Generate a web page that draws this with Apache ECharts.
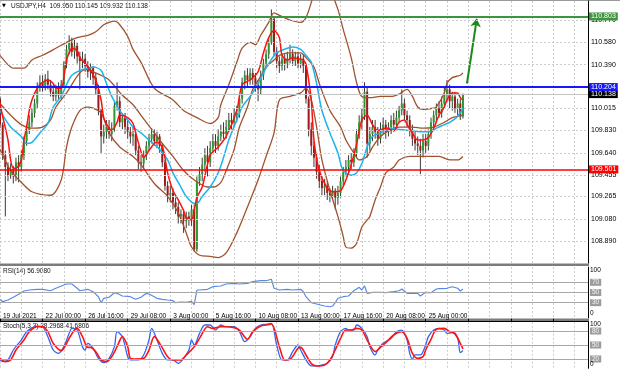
<!DOCTYPE html>
<html>
<head>
<meta charset="utf-8">
<title>USDJPY,H4</title>
<script src="https://cdn.jsdelivr.net/npm/echarts@6/dist/echarts.min.js"></script>
<style>
  html, body { margin: 0; padding: 0; background: #fff; }
  #chart { width: 620px; height: 383px; }
</style>
</head>
<body>
<div id="chart"></div>
<script>
// time axis: one slot per H4 bar, a label every 16 bars
const tickLabels = ['19 Jul 2021', '22 Jul 00:00', '26 Jul 16:00', '29 Jul 08:00', '3 Aug 00:00',
  '5 Aug 16:00', '10 Aug 08:00', '13 Aug 00:00', '17 Aug 16:00', '20 Aug 08:00', '25 Aug 00:00'];
const barsPerLabel = 16;
const barSlots = 221;

// [open, close, low, high]
const candles = [
  [110.10,109.88,109.85,110.12],[109.88,109.62,109.58,109.90],[109.62,109.52,109.10,109.66],[109.52,109.45,109.40,109.56],
  [109.45,109.50,109.42,109.55],[109.50,109.44,109.38,109.53],[109.44,109.56,109.40,109.60],[109.56,109.52,109.39,109.62],
  [109.52,109.62,109.48,109.66],[109.62,109.74,109.58,109.78],[109.74,109.83,109.70,109.88],[109.83,109.90,109.80,109.96],
  [109.90,109.98,109.86,110.02],[109.98,110.06,109.94,110.10],[110.06,110.20,110.02,110.24],[110.20,110.24,110.16,110.30],
  [110.24,110.20,110.16,110.30],[110.20,110.27,110.17,110.31],[110.27,110.22,110.18,110.34],[110.22,110.16,110.12,110.26],
  [110.16,110.12,110.08,110.22],[110.12,110.18,110.08,110.22],[110.18,110.13,110.10,110.24],[110.13,110.22,110.10,110.26],
  [110.22,110.40,110.20,110.42],[110.40,110.52,110.36,110.56],[110.52,110.58,110.48,110.64],[110.58,110.50,110.46,110.62],
  [110.50,110.55,110.44,110.60],[110.55,110.46,110.40,110.58],[110.46,110.42,110.18,110.50],[110.42,110.44,110.36,110.50],
  [110.44,110.38,110.33,110.48],[110.38,110.33,110.28,110.42],[110.33,110.36,110.26,110.40],[110.36,110.28,110.22,110.38],
  [110.28,110.18,110.14,110.32],[110.18,110.00,109.96,110.22],[110.00,109.78,109.64,110.02],[109.78,109.82,109.72,109.88],
  [109.82,109.86,109.76,109.92],[109.86,109.80,109.76,109.92],[109.80,109.85,109.74,109.90],[109.85,110.04,109.82,110.08],
  [110.04,110.08,110.00,110.24],[110.08,109.90,109.86,110.12],[109.90,109.94,109.84,109.98],[109.94,109.86,109.80,109.98],
  [109.86,109.82,109.76,109.92],[109.82,109.78,109.72,109.86],[109.78,109.80,109.70,109.86],[109.80,109.66,109.62,109.82],
  [109.66,109.56,109.50,109.70],[109.56,109.55,109.48,109.62],[109.55,109.62,109.50,109.66],[109.62,109.70,109.58,109.74],
  [109.70,109.76,109.66,109.80],[109.76,109.80,109.72,109.85],[109.80,109.74,109.70,109.84],[109.74,109.78,109.68,109.82],
  [109.78,109.70,109.64,109.80],[109.70,109.56,109.52,109.72],[109.56,109.36,109.32,109.58],[109.36,109.28,109.22,109.40],
  [109.28,109.30,109.22,109.36],[109.30,109.22,109.16,109.34],[109.22,109.18,109.12,109.26],[109.18,109.10,109.04,109.22],
  [109.10,109.12,109.04,109.16],[109.12,109.06,108.96,109.16],[109.06,109.10,109.00,109.14],[109.10,109.08,109.02,109.14],
  [109.08,109.16,109.02,109.20],[109.16,108.82,108.80,109.20],[108.82,109.40,108.80,109.44],[109.40,109.46,109.36,109.52],
  [109.46,109.54,109.40,109.60],[109.54,109.62,109.48,109.68],[109.62,109.56,109.44,109.70],[109.56,109.68,109.52,109.74],
  [109.68,109.74,109.64,109.80],[109.74,109.70,109.64,109.80],[109.70,109.78,109.66,109.84],[109.78,109.82,109.74,109.88],
  [109.82,109.80,109.76,109.90],[109.80,109.86,109.76,109.92],[109.86,109.92,109.82,109.98],[109.92,109.90,109.84,109.98],
  [109.90,109.96,109.86,110.02],[109.96,109.98,109.90,110.04],[109.98,110.10,109.94,110.14],[110.10,110.24,110.06,110.28],
  [110.24,110.30,110.18,110.34],[110.30,110.26,110.20,110.36],[110.26,110.32,110.22,110.36],[110.32,110.28,110.22,110.36],
  [110.28,110.22,110.16,110.32],[110.22,110.18,110.08,110.26],[110.18,110.30,110.14,110.34],[110.30,110.40,110.26,110.44],
  [110.40,110.48,110.36,110.52],[110.48,110.58,110.44,110.62],[110.58,110.78,110.56,110.86],[110.78,110.50,110.46,110.80],
  [110.50,110.42,110.36,110.54],[110.42,110.38,110.32,110.46],[110.38,110.44,110.34,110.48],[110.44,110.40,110.34,110.48],
  [110.40,110.44,110.36,110.50],[110.44,110.48,110.40,110.56],[110.48,110.42,110.38,110.52],[110.42,110.46,110.38,110.50],
  [110.46,110.40,110.36,110.50],[110.40,110.44,110.36,110.48],[110.44,110.38,110.32,110.48],[110.38,110.10,110.06,110.40],
  [110.10,109.84,109.78,110.12],[109.84,109.70,109.62,109.90],[109.70,109.60,109.52,109.74],[109.60,109.48,109.42,109.64],
  [109.48,109.40,109.34,109.54],[109.40,109.34,109.28,109.44],[109.34,109.36,109.28,109.42],[109.36,109.30,109.24,109.40],
  [109.30,109.28,109.22,109.34],[109.28,109.32,109.24,109.36],[109.32,109.26,109.16,109.34],[109.26,109.30,109.20,109.36],
  [109.30,109.40,109.26,109.44],[109.40,109.48,109.36,109.52],[109.48,109.52,109.44,109.58],[109.52,109.58,109.46,109.62],
  [109.58,109.56,109.50,109.64],[109.56,109.64,109.52,109.68],[109.64,109.80,109.60,109.84],[109.80,109.90,109.76,109.96],
  [109.90,109.96,109.84,110.02],[109.96,110.16,109.92,110.24],[110.16,109.72,109.60,110.20],[109.72,109.80,109.66,109.86],
  [109.80,109.86,109.74,109.92],[109.86,109.82,109.76,109.92],[109.82,109.76,109.70,109.86],[109.76,109.84,109.72,109.90],
  [109.84,109.88,109.80,109.94],[109.88,109.82,109.76,109.92],[109.82,109.86,109.78,109.90],[109.86,109.92,109.80,109.96],
  [109.92,109.88,109.82,109.98],[109.88,109.94,109.84,110.00],[109.94,110.00,109.90,110.04],[110.00,110.06,109.96,110.18],
  [110.06,109.96,109.92,110.10],[109.96,109.92,109.86,110.00],[109.92,109.84,109.78,109.96],[109.84,109.76,109.70,109.88],
  [109.76,109.72,109.66,109.82],[109.72,109.70,109.62,109.78],[109.70,109.66,109.46,109.76],[109.66,109.74,109.60,109.80],
  [109.74,109.70,109.64,109.80],[109.70,109.80,109.66,109.84],[109.80,109.90,109.76,109.94],[109.90,109.96,109.86,110.00],
  [109.96,110.02,109.90,110.06],[110.02,109.98,109.94,110.08],[109.98,110.06,109.94,110.12],[110.06,110.14,110.02,110.20],
  [110.14,110.18,110.08,110.26],[110.18,110.08,110.02,110.22],[110.08,110.12,110.00,110.16],[110.12,110.02,109.98,110.16],
  [110.02,110.06,109.96,110.10],[110.06,109.95,109.92,110.10],[109.950,110.138,109.932,110.145]
];

// indicator lines, [bar, value]
const fastMA = [[0,110.06],[1,109.95],[3,109.75],[4,109.58],[5,109.51],[6,109.51],[8,109.58],[9,109.75],[10,109.86],[11,110.00],[12,110.09],[14,110.19],[16,110.24],[18,110.26],[20,110.23],[21,110.19],[23,110.19],[24,110.28],[25,110.43],[26,110.49],[27,110.53],[29,110.51],[30,110.45],[32,110.40],[34,110.34],[36,110.26],[38,110.09],[39,109.94],[41,109.85],[42,109.83],[44,109.90],[45,109.96],[48,109.94],[50,109.89],[51,109.81],[53,109.65],[54,109.60],[56,109.66],[58,109.72],[59,109.73],[61,109.69],[62,109.60],[63,109.47],[65,109.32],[67,109.24],[69,109.15],[70,109.09],[72,109.07],[73,109.15],[74,109.26],[76,109.35],[79,109.62],[82,109.69],[85,109.78],[89,110.00],[91,110.22],[94,110.26],[97,110.33],[99,110.49],[101,110.62],[103,110.68],[105,110.62],[106,110.47],[108,110.43],[110,110.45],[112,110.44],[114,110.43],[115,110.39],[116,110.26],[117,110.09],[118,109.75],[120,109.49],[123,109.34],[125,109.31],[128,109.32],[130,109.41],[132,109.54],[134,109.71],[136,109.92],[138,109.96],[140,109.88],[142,109.83],[145,109.85],[148,109.83],[150,109.90],[152,109.92],[153,109.88],[155,109.81],[157,109.75],[159,109.75],[161,109.77],[163,109.85],[165,109.96],[167,110.03],[168,110.09],[170,110.15],[172,110.15],[173,110.11],[174,110.09]];
const slowMA = [[0,110.00],[4,109.86],[8,109.78],[10,109.72],[12,109.73],[15,109.81],[18,109.89],[20,110.03],[23,110.12],[25,110.22],[27,110.30],[30,110.34],[33,110.36],[35,110.37],[38,110.34],[40,110.23],[42,110.12],[45,110.00],[48,109.92],[50,109.86],[53,109.81],[56,109.75],[60,109.67],[63,109.58],[65,109.47],[68,109.35],[70,109.27],[73,109.21],[74,109.21],[76,109.27],[79,109.35],[82,109.47],[84,109.60],[86,109.75],[89,109.92],[91,110.03],[94,110.12],[97,110.23],[99,110.32],[101,110.40],[104,110.49],[108,110.53],[110,110.54],[113,110.52],[115,110.47],[117,110.41],[119,110.23],[121,110.00],[124,109.81],[127,109.64],[129,109.49],[132,109.45],[134,109.47],[136,109.55],[138,109.69],[140,109.78],[143,109.81],[147,109.85],[150,109.84],[154,109.83],[158,109.82],[162,109.82],[164,109.85],[167,109.88],[169,109.90],[172,109.95],[174,110.02]];
const bbUpper = [[0,110.47],[3,110.39],[5,110.36],[9,110.36],[12,110.43],[16,110.47],[21,110.53],[25,110.58],[29,110.62],[33,110.64],[36,110.67],[39,110.73],[41,110.75],[43,110.76],[45,110.73],[48,110.63],[50,110.52],[53,110.41],[58,110.19],[65,110.09],[69,110.00],[74,109.94],[79,109.89],[82,109.94],[83,110.05],[86,110.22],[89,110.41],[91,110.53],[94,110.58],[96,110.56],[98,110.64],[101,110.75],[103,110.83],[105,110.81],[109,110.77],[113,110.75],[115,110.79],[117,110.92],[119,111.07],[121,111.15],[124,111.03],[127,110.86],[129,110.69],[132,110.45],[134,110.24],[136,110.12],[139,110.11],[143,110.12],[147,110.12],[150,110.14],[153,110.18],[155,110.12],[157,110.03],[159,110.01],[163,110.02],[164,110.03],[167,110.15],[168,110.23],[170,110.28],[173,110.30],[174,110.32]];
const bbMiddle = [[0,110.06],[4,109.96],[8,109.88],[12,109.85],[16,109.86],[19,109.92],[21,110.03],[25,110.15],[30,110.32],[33,110.35],[35,110.33],[38,110.30],[41,110.26],[46,110.13],[50,110.05],[53,109.96],[58,109.81],[61,109.72],[65,109.61],[69,109.49],[73,109.41],[78,109.35],[80,109.35],[83,109.39],[85,109.49],[88,109.67],[90,109.86],[93,110.03],[95,110.18],[98,110.29],[100,110.37],[103,110.43],[105,110.47],[109,110.49],[113,110.49],[115,110.45],[118,110.37],[120,110.23],[124,110.00],[128,109.86],[130,109.75],[133,109.64],[135,109.58],[138,109.61],[140,109.69],[143,109.78],[147,109.84],[150,109.86],[155,109.86],[159,109.85],[163,109.86],[167,109.90],[170,109.94],[174,109.96]];
const bbLower = [[0,109.67],[4,109.49],[8,109.39],[12,109.31],[19,109.28],[23,109.41],[25,109.69],[27,109.86],[30,110.00],[33,110.03],[35,110.02],[38,109.98],[41,109.81],[45,109.69],[50,109.61],[53,109.54],[58,109.38],[63,109.27],[67,109.13],[70,108.96],[72,108.84],[75,108.77],[79,108.76],[82,108.75],[85,108.79],[89,108.96],[93,109.18],[97,109.41],[100,109.61],[103,109.81],[105,110.09],[109,110.12],[113,110.15],[115,110.19],[117,110.09],[119,109.86],[121,109.58],[124,109.32],[127,109.10],[129,108.93],[130,108.84],[132,108.83],[134,108.87],[136,109.01],[138,109.07],[139,109.10],[141,109.24],[143,109.35],[145,109.47],[148,109.52],[150,109.58],[154,109.61],[158,109.61],[162,109.61],[165,109.61],[169,109.58],[172,109.58],[174,109.61]];

const rsi = [[0,36.6],[1,31.9],[3,35.2],[5,40.6],[8,49.6],[9,53.0],[11,54.9],[14,56.3],[16,56.3],[19,53.5],[21,58.3],[24,64.8],[25,66.7],[27,66.7],[29,58.3],[30,53.5],[33,56.3],[35,51.6],[37,41.7],[38,29.9],[39,38.6],[41,40.6],[43,49.6],[44,48.4],[46,43.1],[49,41.7],[51,36.6],[53,40.6],[55,48.4],[56,47.0],[59,38.6],[61,36.6],[63,35.2],[65,33.9],[66,29.9],[68,31.3],[70,30.7],[72,32.5],[73,26.0],[74,54.9],[75,54.9],[78,56.3],[80,61.4],[83,62.8],[85,66.7],[88,68.1],[90,66.7],[93,68.1],[95,71.3],[98,73.2],[100,73.2],[102,76.0],[103,58.3],[105,54.9],[108,56.3],[110,54.9],[113,56.3],[114,51.6],[115,41.7],[117,29.9],[119,27.4],[122,23.4],[124,22.0],[125,23.4],[126,29.9],[127,38.6],[129,41.7],[131,43.1],[132,48.4],[133,53.5],[135,60.2],[136,54.9],[137,63.4],[138,48.4],[140,50.4],[143,50.4],[145,49.6],[148,51.6],[150,53.5],[151,56.9],[153,48.4],[155,48.4],[157,48.4],[158,43.1],[160,50.4],[162,49.6],[164,56.9],[165,57.5],[168,58.3],[170,61.4],[172,58.3],[173,53.0],[174,56.9]];
const stochMain = [[0,17.9],[1,14.3],[3,17.9],[5,39.3],[8,60.7],[10,78.6],[13,89.3],[14,90.7],[16,89.3],[18,67.9],[20,39.3],[22,32.1],[24,46.4],[26,75.0],[27,85.7],[29,82.1],[31,46.4],[32,39.3],[33,53.6],[35,42.9],[37,21.4],[39,12.1],[41,21.4],[43,46.4],[44,78.6],[46,67.9],[48,25.0],[49,17.9],[52,17.9],[54,28.6],[56,60.7],[57,85.7],[59,60.7],[61,32.1],[63,17.9],[65,17.9],[67,10.7],[69,21.4],[71,39.3],[72,60.7],[73,50.0],[75,75.0],[77,92.9],[79,92.9],[81,82.1],[83,92.9],[85,89.3],[88,89.3],[90,78.6],[92,57.1],[94,67.9],[96,85.7],[98,92.9],[100,94.3],[102,96.4],[104,50.0],[106,17.9],[108,17.9],[110,35.7],[112,50.0],[113,39.3],[115,17.9],[117,5.0],[119,5.0],[121,7.1],[123,10.7],[125,25.0],[126,50.0],[128,78.6],[130,85.7],[131,82.1],[133,82.1],[134,92.9],[136,85.7],[138,67.9],[139,46.4],[141,28.6],[142,39.3],[144,53.6],[147,64.3],[149,78.6],[151,82.1],[153,60.7],[154,32.1],[155,19.3],[156,28.6],[158,28.6],[160,50.0],[161,67.9],[163,82.1],[165,85.7],[167,82.1],[168,75.0],[170,76.4],[172,64.3],[173,33.6],[174,38.3]];
const stochSignal = [[0,21.4],[2,14.3],[4,17.9],[6,39.3],[9,60.7],[11,78.6],[14,89.3],[16,89.3],[18,78.6],[20,53.6],[23,37.9],[24,42.9],[26,64.3],[28,82.1],[29,85.7],[31,67.9],[33,45.0],[34,45.0],[36,35.7],[38,17.9],[40,14.3],[42,25.0],[44,46.4],[46,67.9],[48,46.4],[49,21.4],[51,20.0],[54,21.4],[56,39.3],[58,67.9],[60,53.6],[63,25.0],[65,17.9],[68,17.9],[70,28.6],[73,46.4],[75,64.3],[78,89.3],[80,85.7],[83,89.3],[85,89.3],[88,87.1],[90,82.1],[93,62.1],[95,78.6],[98,90.7],[100,92.9],[102,95.0],[105,46.4],[107,17.9],[109,19.3],[112,42.9],[113,45.0],[115,28.6],[117,10.0],[119,5.0],[122,7.1],[124,17.9],[126,39.3],[128,64.3],[130,82.1],[132,82.1],[134,85.7],[136,82.1],[138,60.7],[141,35.7],[143,45.0],[145,55.0],[148,71.4],[151,78.6],[153,64.3],[155,32.1],[157,21.4],[159,25.0],[160,39.3],[162,62.1],[164,83.6],[167,85.7],[169,78.6],[171,75.0],[173,53.6],[174,41.7]];

const priceTicks = ['110.770', '110.580', '110.390', '110.205', '110.015', '109.830', '109.640', '109.455', '109.265', '109.080', '108.890', '108.705'];
const resistTop = '110.803';
const resistMid = '110.204';
const support = '109.501';
const rsiLast = '56.9080';
const stochLast = ['38.2968', '41.6806'];
const rsiLevels = [70, 50, 30];
const stochLevels = [80, 50, 20];
const arrowPath = [[175.5, 110.23], [179.2, 110.78]];

const FONT = 'Liberation Sans';
const GRID_DASH = { color: '#cdcdcd', type: [2, 2], width: 1 };
const BROWN = '#a0522d';

const chart = echarts.init(document.getElementById('chart'));

function splitAxis(gridIndex) {
  return {
    type: 'value', gridIndex: gridIndex, min: 0, max: barSlots, interval: 8,
    axisLine: { show: false }, axisTick: { show: false }, axisLabel: { show: false },
    splitLine: { show: true, lineStyle: GRID_DASH }
  };
}

function panelY(gridIndex, min, max) {
  return {
    type: 'value', gridIndex: gridIndex, min: min, max: max, position: 'right',
    axisLine: { show: true, onZero: false, lineStyle: { color: '#000', width: 1 } },
    axisTick: { show: false }, axisLabel: { show: false }, splitLine: { show: false }
  };
}

function line(data, color, width, axis, smooth) {
  return {
    type: 'line', data: data, xAxisIndex: axis, yAxisIndex: axis, showSymbol: false,
    smooth: smooth, silent: true, lineStyle: { color: color, width: width }
  };
}

function renderCandle(params, api) {
  const x = api.value(0);
  const open = api.value(1), close = api.value(2), low = api.value(3), high = api.value(4);
  const top = api.coord([x, high]);
  const bottom = api.coord([x, low]);
  const pOpen = api.coord([x, open]);
  const pClose = api.coord([x, close]);
  return {
    type: 'group',
    children: [
      { type: 'line', shape: { x1: top[0], y1: top[1], x2: bottom[0], y2: bottom[1] },
        style: { stroke: '#3a3a3a', lineWidth: 1 } },
      { type: 'rect', shape: { x: top[0] - 1, y: Math.min(pOpen[1], pClose[1]), width: 2,
          height: Math.max(Math.abs(pOpen[1] - pClose[1]), 1) },
        style: { fill: close >= open ? '#2e9a2e' : '#9b1b1b' } }
    ]
  };
}

// level lines with their label boxes on the right scale; 100 and 0 only get text
function levelMarks(levels, plain) {
  const box = { backgroundColor: '#9c9c9c', color: '#f4f4f4', padding: [0, 2, 0, 2] };
  const data = levels.map(v => ({ name: String(v), yAxis: v, label: box }));
  plain.forEach(p => data.push({
    name: String(p[0]), yAxis: p[0],
    lineStyle: { color: 'rgba(0,0,0,0)', width: 1 },
    label: { offset: [0, p[1]], color: '#000' }
  }));
  return {
    symbol: ['none', 'none'], silent: true, animation: false,
    lineStyle: { color: '#a8a8a8', width: 1, type: 'solid' },
    label: { show: true, position: 'end', distance: 2, fontSize: 6.5, fontFamily: FONT, color: '#000',
      formatter: '{b}' },
    data: data
  };
}

const last = candles[candles.length - 1];
const lastClose = last[1].toFixed(3);
const titleText = 'USDJPY,H4  ' + [last[0], last[3], last[2], last[1]].map(v => v.toFixed(3)).join(' ');

chart.setOption({
  animation: false,
  backgroundColor: '#fff',
  grid: [
    { left: 0, top: 1, width: 588, height: 262 },
    { left: 0, top: 267.1, width: 588, height: 50.8 },
    { left: 0, top: 321.7, width: 588, height: 46.6 }
  ],
  xAxis: [
    splitAxis(0),
    splitAxis(1),
    splitAxis(2),
    {
      type: 'value', gridIndex: 2, min: 0, max: barSlots, interval: barsPerLabel,
      axisLine: { show: true, onZero: false, lineStyle: { color: '#000', width: 1 } },
      axisTick: { show: true, length: 3, lineStyle: { color: '#000' } },
      splitLine: { show: false },
      axisLabel: {
        margin: 2, align: 'left', padding: [0, 0, 0, 3], fontSize: 6.5, fontFamily: FONT, color: '#000',
        showMaxLabel: false,
        formatter: v => (v % barsPerLabel === 0 && tickLabels[v / barsPerLabel]) || ''
      }
    }
  ],
  yAxis: [
    panelY(0, 108.704, 110.9315),
    panelY(1, 0, 100),
    panelY(2, 0, 100)
  ],
  graphic: [
    { type: 'rect', silent: true, shape: { x: 0, y: 0, width: 620, height: 1 }, style: { fill: '#9a9a9a' } },
    { type: 'rect', silent: true, shape: { x: 0, y: 263.5, width: 589, height: 2.5 }, style: { fill: '#7c7c7c' } },
    { type: 'rect', silent: true, shape: { x: 0, y: 318.4, width: 589, height: 2.6 }, style: { fill: '#7c7c7c' } },
    { type: 'text', silent: true, left: 2, top: 3, style: { text: '\u25BC', font: '5px DejaVu Sans', fill: '#000' } },
    { type: 'text', silent: true, left: 11, top: 2.5, style: { text: titleText, font: '6.5px ' + FONT, fill: '#111' } },
    { type: 'text', silent: true, left: 3, top: 268, style: { text: 'RSI(14) ' + rsiLast, font: '6.5px ' + FONT, fill: '#111' } },
    { type: 'text', silent: true, left: 3, top: 323, style: { text: 'Stoch(5,3,3) ' + stochLast.join(' '), font: '6.5px ' + FONT, fill: '#111' } }
  ],
  series: [
    // horizontal price grid and the right-hand price scale
    {
      type: 'line', data: [], xAxisIndex: 0, yAxisIndex: 0, silent: true,
      markLine: {
        symbol: ['none', 'none'], silent: true, animation: false,
        lineStyle: GRID_DASH,
        label: { position: 'end', distance: 3, fontSize: 7, fontFamily: FONT, color: '#000', formatter: '{b}' },
        data: priceTicks.map(t => ({ name: t, yAxis: Number(t) }))
      }
    },
    {
      type: 'custom', xAxisIndex: 0, yAxisIndex: 0, silent: true, clip: true,
      renderItem: renderCandle,
      encode: { x: 0, y: [1, 2, 3, 4] },
      data: candles.map((c, i) => [i, c[0], c[1], c[2], c[3]])
    },
    line(bbUpper, BROWN, 1.3, 0, 0.3),
    line(bbMiddle, BROWN, 1.3, 0, 0.3),
    line(bbLower, BROWN, 1.3, 0, 0.3),
    line(slowMA, '#1cb4ee', 1.5, 0, 0.3),
    line(fastMA, '#ff1010', 1.5, 0, 0.3),
    {
      type: 'line', data: [], xAxisIndex: 0, yAxisIndex: 0, silent: true,
      markLine: {
        symbol: ['none', 'none'], silent: true, animation: false,
        label: { position: 'end', distance: 1, fontSize: 7, fontFamily: FONT, color: '#fff',
          padding: [1, 2, 0, 2], formatter: '{b}' },
        data: [
          { name: lastClose, yAxis: Number(lastClose), lineStyle: { color: '#c4c4c4', width: 1, type: 'solid' }, label: { backgroundColor: '#000' } },
          { name: support, yAxis: Number(support), lineStyle: { color: '#ff0000', width: 1.5, type: 'solid' }, label: { backgroundColor: '#ff0000' } },
          { name: resistMid, yAxis: Number(resistMid), lineStyle: { color: '#1717ff', width: 2, type: 'solid' }, label: { backgroundColor: '#1717ff' } },
          { name: resistTop, yAxis: Number(resistTop), lineStyle: { color: '#3f953f', width: 2, type: 'solid' }, label: { backgroundColor: '#3f953f' } }
        ]
      }
    },
    {
      type: 'lines', coordinateSystem: 'cartesian2d', xAxisIndex: 0, yAxisIndex: 0, silent: true,
      symbol: ['none', 'arrow'], symbolSize: 8,
      lineStyle: { color: '#1a8a1a', width: 2, opacity: 1, curveness: 0 },
      data: [{ coords: arrowPath }]
    },
    // RSI panel
    Object.assign(line(rsi, '#5a8ae6', 1.2, 1, false), {
      markLine: levelMarks(rsiLevels, [[100, 3], [0, -5]])
    }),
    // Stochastic panel
    Object.assign(line(stochMain, '#3366ee', 1.3, 2, 0.3), {
      markLine: levelMarks(stochLevels, [[100, 3], [0, -4]])
    }),
    line(stochSignal, '#ff1414', 1.6, 2, 0.3)
  ]
});
</script>
</body>
</html>
